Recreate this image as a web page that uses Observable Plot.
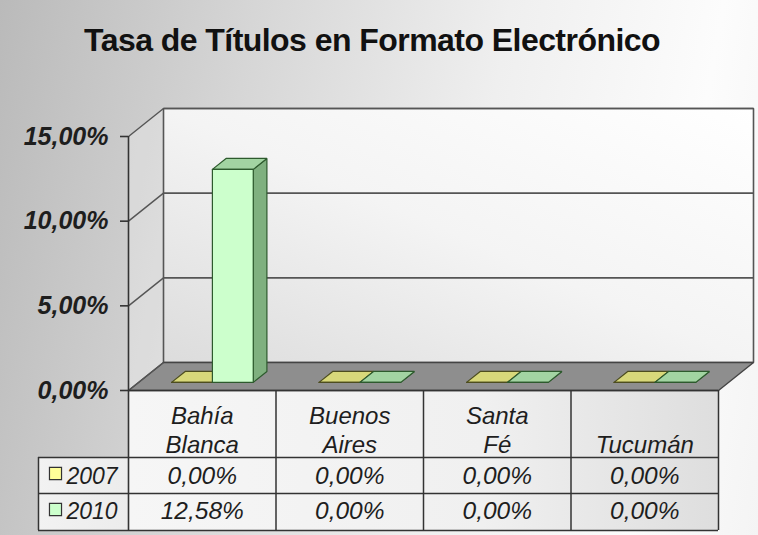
<!DOCTYPE html>
<html><head><meta charset="utf-8">
<script src="https://cdn.jsdelivr.net/npm/d3@7"></script>
<script src="https://cdn.jsdelivr.net/npm/@observablehq/plot@0.6"></script>
<style>
html,body{margin:0;padding:0;}
body{width:758px;height:535px;overflow:hidden;background:linear-gradient(100deg,#bababa 0%,#d6d6d6 30%,#efefef 60%,#fcfcfc 85%,#f4f4f4 100%);font-family:"Liberation Sans",Arial,sans-serif;}
#title{position:relative;height:90px;}
#title span{position:absolute;left:0;width:744px;text-align:center;top:24px;font-size:32px;letter-spacing:-0.55px;font-weight:bold;line-height:32px;color:#111;white-space:nowrap;}
svg{display:block}
</style></head><body>
<div id="title"><span>Tasa de Títulos en Formato Electrónico</span></div>
<div id="chart"></div>
<script>
// ---- data ----
const categories = ["Bahía\nBlanca", "Buenos\nAires", "Santa\nFé", "Tucumán"];
const series = ["2007", "2010"];
const values2007 = [0, 0, 0, 0];
const values2010 = [0.1258, 0, 0, 0];
const yTicks = [0, 0.05, 0.10, 0.15];

// ---- layout ----
const W = 758, H = 445;
const seriesValues = [values2007, values2010];
const styles = [
  {front: "#ffff99", side: "#c9c964", top: "#d8d87a", stroke: "#4d4d1f"},
  {front: "#ccffcc", side: "#7fb07f", top: "#a2d4a2", stroke: "#2d5a2d"}
];
const xOpts = {domain: [0, categories.length], range: [128, 718]};
const yOpts = {domain: [0, 0.15], range: [300, 46]};
const xs = Plot.scale({x: xOpts});
const ys = Plot.scale({y: yOpts});
const tx = px => xs.invert(px);
const ty = px => ys.invert(px);
const DU = tx(128 + 35) - 0;     // depth offset in x units
const DV = ty(300 - 28) - 0;     // depth offset in y units
const P = (u, v, d) => ({x: u + d * DU, y: v + d * DV});
const fmt = d => (d * 100).toFixed(2).replace(".", ",") + "%";
const N = categories.length, TOP = yOpts.domain[1];

const polys = [];
function poly(pts, fill, stroke, sw = 1.2) { polys.push({pts: [...pts, pts[0]], fill, stroke, sw}); }

// walls & floor
poly([P(0,0,0), P(0,0,1), P(0,TOP,1), P(0,TOP,0)], "rgba(255,255,255,0.25)", "none", 0);
poly([P(0,0,1), P(N,0,1), P(N,TOP,1), P(0,TOP,1)], "url(#wallGrad)", "#555", 1.6);
poly([P(0,0,0), P(0,0,1), P(N,0,1), P(N,0,0)], "#8e8e8e", "#444", 1.4);

// bars
const bw = 0.277, off = 0.223, d0 = 0.29, d1 = 0.68;
categories.forEach((c, i) => {
  seriesValues.forEach((vals, s) => {
    const v = vals[i], st = styles[s];
    const u0 = i + off + s * bw, u1 = u0 + bw;
    poly([P(u1,0,d0), P(u1,0,d1), P(u1,v,d1), P(u1,v,d0)], st.side, st.stroke);
    poly([P(u0,v,d0), P(u1,v,d0), P(u1,v,d1), P(u0,v,d1)], st.top, st.stroke);
    poly([P(u0,0,d0), P(u1,0,d0), P(u1,v,d0), P(u0,v,d0)], st.front, st.stroke);
  });
});

const wallMarks = polys.slice(0, 3);
const barMarks = polys.slice(3);
const polyMark = p => Plot.line(p.pts, {x: "x", y: "y", fill: p.fill, stroke: p.stroke, strokeWidth: p.sw, strokeLinejoin: "miter", curve: "linear"});

const tableBottom = 440, row1 = 367, row2 = 403, legendLeft = 38;
const labelBase = 362, rowBase = [393, 428], swatchY = [383, 419];
const font = {fontFamily: "'Liberation Sans', Arial, sans-serif", fill: "#1e1e1e"};

const marks = [
  // table background
  Plot.rect([0], {x1: () => 0, x2: () => N, y1: () => ty(tableBottom), y2: () => 0, fill: "url(#tableGrad)"}),
  Plot.rect([0], {x1: () => tx(legendLeft), x2: () => 0, y1: () => ty(tableBottom), y2: () => ty(row1), fill: "url(#legGrad)"}),
  ...wallMarks.map(polyMark),
  // back-wall gridlines and side-wall diagonals
  Plot.link(yTicks.slice(1), {x1: () => DU, y1: d => d + DV, x2: () => N + DU, y2: d => d + DV, stroke: "#555", strokeWidth: 1.6}),
  Plot.link(yTicks, {x1: () => 0, y1: d => d, x2: () => DU, y2: d => d + DV, stroke: "#555", strokeWidth: 1.4}),
  ...barMarks.map(polyMark),
  // front axis & ticks
  Plot.ruleX([0], {x: d => d, y1: () => ty(tableBottom), y2: () => TOP, stroke: "#333", strokeWidth: 1.6}),
  Plot.ruleY(yTicks, {y: d => d, x1: () => tx(120), x2: () => 0, stroke: "#333", strokeWidth: 1.6}),
  // table grid
  Plot.ruleX(d3.range(1, N + 1), {x: d => d, y1: () => ty(tableBottom), y2: () => 0, stroke: "#333", strokeWidth: 1.5}),
  Plot.ruleX([tx(legendLeft)], {x: d => d, y1: () => ty(tableBottom), y2: () => ty(row1), stroke: "#333", strokeWidth: 1.5}),
  Plot.ruleY([ty(row1), ty(row2), ty(tableBottom)], {y: d => d, x1: () => tx(legendLeft), x2: () => N, stroke: "#333", strokeWidth: 1.5}),
  Plot.ruleY([0], {y: d => d, x1: () => 0, x2: () => N, stroke: "#333", strokeWidth: 1.5}),
  // y tick labels
  Plot.text(yTicks, {x: () => 0, y: d => d, text: fmt, dx: -20, textAnchor: "end", fontSize: 25, fontWeight: "bold", fontStyle: "italic", ...font}),
  // category labels
  Plot.text(categories, {x: (d, i) => i + 0.5, y: () => ty(labelBase), text: d => d, lineAnchor: "bottom", lineHeight: 1.2, fontSize: 24, fontStyle: "italic", ...font}),
  // values and legend
  ...series.flatMap((name, s) => [
    Plot.text(seriesValues[s], {x: (d, i) => i + 0.5, y: () => ty(rowBase[s]), text: fmt, lineAnchor: "bottom", fontSize: 24.5, fontStyle: "italic", ...font}),
    Plot.dot([name], {x: () => tx(55), y: () => ty(swatchY[s]), symbol: "square", r: 6.8, fill: styles[s].front, stroke: "#333", strokeWidth: 1.2}),
    Plot.text([name], {x: () => tx(66), y: () => ty(rowBase[s]), text: d => d, textAnchor: "start", lineAnchor: "bottom", fontSize: 23, fontStyle: "italic", ...font})
  ])
];

const svg = Plot.plot({
  width: W, height: H,
  x: {...xOpts, axis: null},
  y: {...yOpts, axis: null},
  style: {background: "transparent", fontFamily: "'Liberation Sans', Arial, sans-serif", overflow: "visible"},
  marks
});
const ns = "http://www.w3.org/2000/svg";
const defs = document.createElementNS(ns, "defs");
defs.innerHTML = `
<linearGradient id="wallGrad" x1="0" y1="1" x2="1" y2="0">
  <stop offset="0" stop-color="#dcdcdc"/><stop offset="0.5" stop-color="#f4f4f4"/><stop offset="1" stop-color="#ffffff"/>
</linearGradient>
<linearGradient id="tableGrad" x1="0" y1="0" x2="1" y2="0">
  <stop offset="0" stop-color="#f6f6f6"/><stop offset="0.6" stop-color="#f0f0f0"/><stop offset="1" stop-color="#dedede"/>
</linearGradient>
<linearGradient id="legGrad" x1="0" y1="0" x2="1" y2="0">
  <stop offset="0" stop-color="#f2f2f2"/><stop offset="1" stop-color="#ececec"/>
</linearGradient>`;
svg.insertBefore(defs, svg.firstChild);
document.getElementById("chart").appendChild(svg);
</script>
</body></html>
